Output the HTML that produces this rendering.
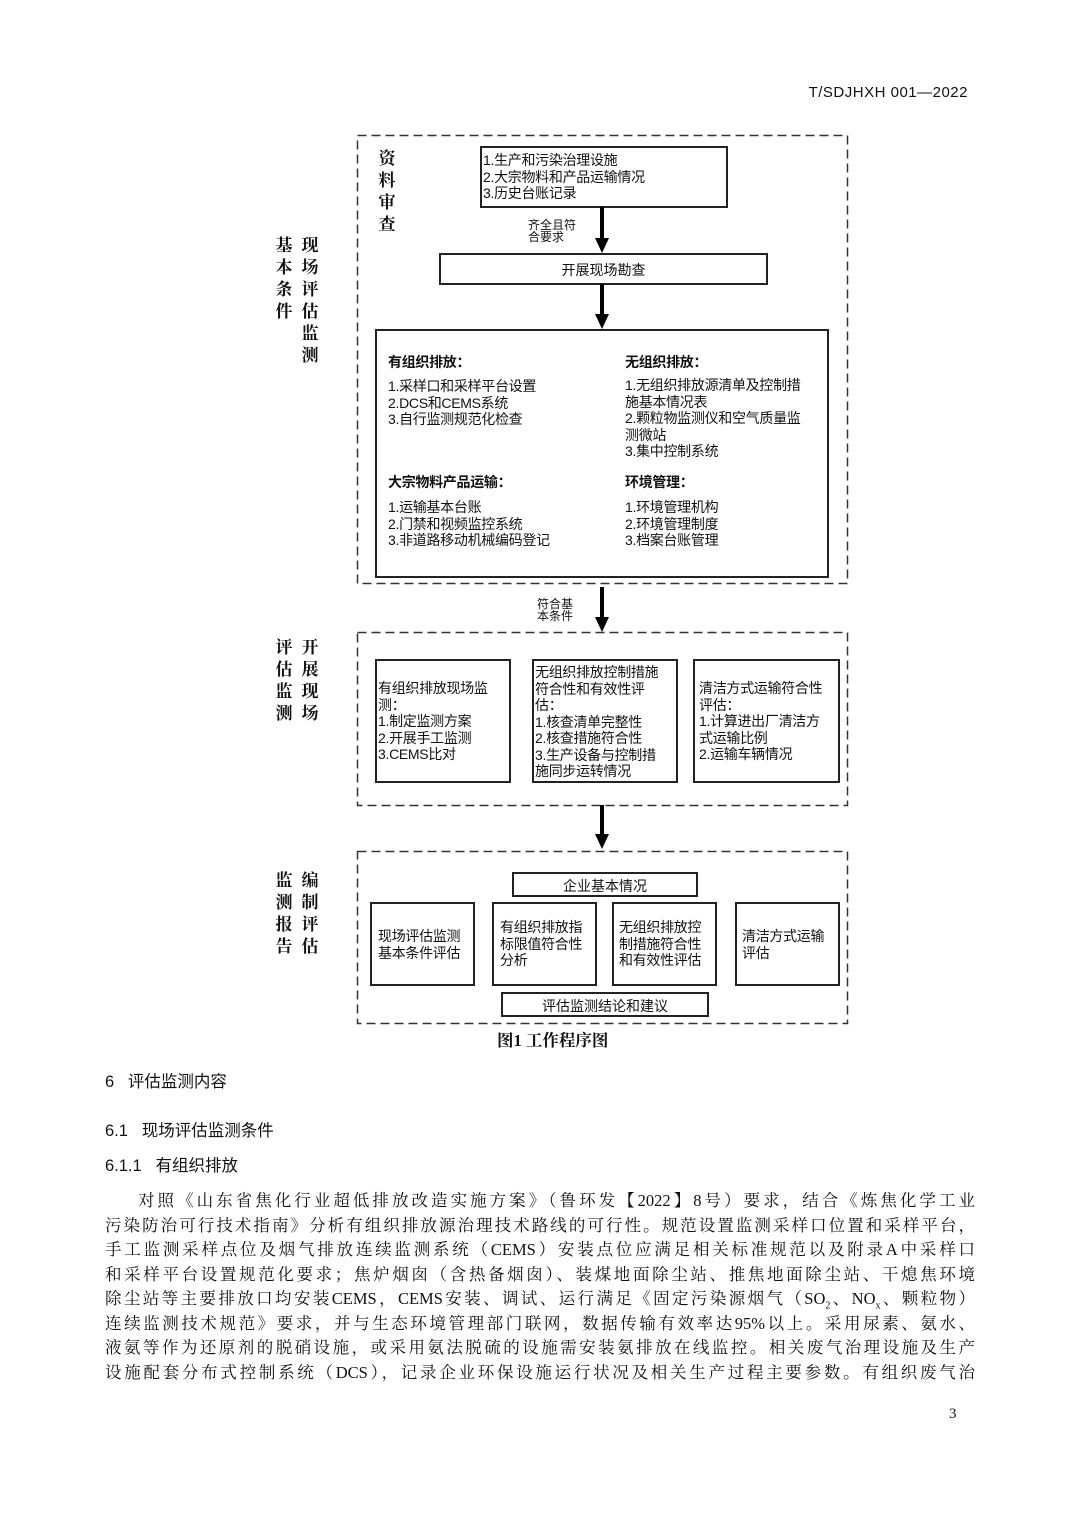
<!DOCTYPE html>
<html><head><meta charset="utf-8"><style>
*{margin:0;padding:0;box-sizing:border-box}
body{width:1080px;height:1527px;background:#fff;position:relative;overflow:hidden;font-family:"Liberation Sans","Noto Sans CJK SC",sans-serif;color:#111}
.a{position:absolute}
.b{position:absolute;border:2px solid #222;background:#fff}
.t{position:absolute;font-size:14px;line-height:16.5px;white-space:nowrap;letter-spacing:-0.3px}
.h{font-weight:bold}
.v{position:absolute;font-weight:bold;font-size:17px;line-height:22px;width:20px;font-family:"Liberation Serif","Noto Serif CJK SC",serif;text-align:center}
.sl{position:absolute;width:4px;background:#000}
.ah{position:absolute;width:0;height:0;border-left:7px solid transparent;border-right:7px solid transparent;border-top:15px solid #000}
.sm{position:absolute;font-size:12px;line-height:12px;white-space:nowrap}
.p{position:absolute;left:105px;width:870px;font-family:"Liberation Serif","Noto Serif CJK SC",serif;font-size:16.5px;line-height:20px;text-align:justify;text-align-last:justify;white-space:nowrap}
.sec{position:absolute;left:105px;font-size:16.5px;line-height:20px}
</style></head><body>
<svg class="a" style="left:0;top:0" width="1080" height="1527">
<g fill="none" stroke="#333" stroke-width="1.5" stroke-dasharray="9,5">
<rect x="357.5" y="135.5" width="490" height="448"/>
<rect x="357.5" y="632.5" width="490" height="173"/>
<rect x="357.5" y="851.5" width="490" height="172"/>
</g></svg>
<div class="a" style="right:112px;top:84px;font-size:15px;letter-spacing:0.5px">T/SDJHXH 001—2022</div>

<div class="v" style="left:274px;top:235px">基<br>本<br>条<br>件</div>
<div class="v" style="left:300px;top:235px">现<br>场<br>评<br>估<br>监<br>测</div>
<div class="v" style="left:274px;top:637px">评<br>估<br>监<br>测</div>
<div class="v" style="left:300px;top:637px">开<br>展<br>现<br>场</div>
<div class="v" style="left:274px;top:870px">监<br>测<br>报<br>告</div>
<div class="v" style="left:300px;top:870px">编<br>制<br>评<br>估</div>

<div class="v" style="left:377px;top:148px">资<br>料<br>审<br>查</div>
<div class="b" style="left:480px;top:146px;width:248px;height:62px"></div>
<div class="t" style="left:483px;top:152px">1.生产和污染治理设施<br>2.大宗物料和产品运输情况<br>3.历史台账记录</div>
<div class="sl" style="left:600px;top:207px;height:33px"></div><div class="ah" style="left:595px;top:238px"></div>
<div class="sm" style="left:528px;top:219px">齐全且符<br>合要求</div>
<div class="b" style="left:439px;top:253px;width:329px;height:32px"></div>
<div class="a" style="left:439px;top:260px;width:329px;text-align:center;font-size:14px">开展现场勘查</div>
<div class="sl" style="left:600px;top:284px;height:31px"></div><div class="ah" style="left:595px;top:314px"></div>
<div class="b" style="left:375px;top:329px;width:454px;height:249px"></div>
<div class="t h" style="left:388px;top:354px">有组织排放：</div>
<div class="t" style="left:388px;top:378px">1.采样口和采样平台设置<br>2.DCS和CEMS系统<br>3.自行监测规范化检查</div>
<div class="t h" style="left:625px;top:354px">无组织排放：</div>
<div class="t" style="left:625px;top:377px">1.无组织排放源清单及控制措<br>施基本情况表<br>2.颗粒物监测仪和空气质量监<br>测微站<br>3.集中控制系统</div>
<div class="t h" style="left:388px;top:474px">大宗物料产品运输：</div>
<div class="t" style="left:388px;top:499px">1.运输基本台账<br>2.门禁和视频监控系统<br>3.非道路移动机械编码登记</div>
<div class="t h" style="left:625px;top:474px">环境管理：</div>
<div class="t" style="left:625px;top:499px">1.环境管理机构<br>2.环境管理制度<br>3.档案台账管理</div>

<div class="sl" style="left:600px;top:587px;height:31px"></div><div class="ah" style="left:595px;top:617px"></div>
<div class="sm" style="left:537px;top:598px">符合基<br>本条件</div>

<div class="b" style="left:375px;top:659px;width:136px;height:124px"></div>
<div class="t" style="left:378px;top:680px">有组织排放现场监<br>测：<br>1.制定监测方案<br>2.开展手工监测<br>3.CEMS比对</div>
<div class="b" style="left:532px;top:659px;width:146px;height:124px"></div>
<div class="t" style="left:535px;top:664px">无组织排放控制措施<br>符合性和有效性评<br>估：<br>1.核查清单完整性<br>2.核查措施符合性<br>3.生产设备与控制措<br>施同步运转情况</div>
<div class="b" style="left:693px;top:659px;width:147px;height:124px"></div>
<div class="t" style="left:699px;top:680px">清洁方式运输符合性<br>评估：<br>1.计算进出厂清洁方<br>式运输比例<br>2.运输车辆情况</div>

<div class="sl" style="left:600px;top:805px;height:30px"></div><div class="ah" style="left:595px;top:834px"></div>

<div class="b" style="left:512px;top:872px;width:186px;height:25px"></div>
<div class="a" style="left:512px;top:876px;width:186px;text-align:center;font-size:14px">企业基本情况</div>
<div class="b" style="left:370px;top:902px;width:105px;height:84px"></div>
<div class="t" style="left:378px;top:928px">现场评估监测<br>基本条件评估</div>
<div class="b" style="left:492px;top:902px;width:105px;height:84px"></div>
<div class="t" style="left:500px;top:919px">有组织排放指<br>标限值符合性<br>分析</div>
<div class="b" style="left:612px;top:902px;width:105px;height:84px"></div>
<div class="t" style="left:619px;top:919px">无组织排放控<br>制措施符合性<br>和有效性评估</div>
<div class="b" style="left:735px;top:902px;width:105px;height:84px"></div>
<div class="t" style="left:742px;top:928px">清洁方式运输<br>评估</div>
<div class="b" style="left:501px;top:992px;width:208px;height:25px"></div>
<div class="a" style="left:501px;top:996px;width:208px;text-align:center;font-size:14px">评估监测结论和建议</div>

<div class="a h" style="left:497px;top:1027px;font-size:16.5px;font-weight:bold;font-family:'Liberation Serif','Noto Serif CJK SC',serif">图1 工作程序图</div>

<div class="sec" style="top:1072px">6&nbsp;&nbsp;&nbsp;评估监测内容</div>
<div class="sec" style="top:1121px">6.1&nbsp;&nbsp;&nbsp;现场评估监测条件</div>
<div class="sec" style="top:1156px">6.1.1&nbsp;&nbsp;&nbsp;有组织排放</div>

<div class="p" style="top:1191px;left:138px;width:837px">对照《山东省焦化行业超低排放改造实施方案》（鲁环发【2022】8号）要求，结合《炼焦化学工业</div>
<div class="p" style="top:1216px">污染防治可行技术指南》分析有组织排放源治理技术路线的可行性。规范设置监测采样口位置和采样平台，</div>
<div class="p" style="top:1240px">手工监测采样点位及烟气排放连续监测系统（CEMS）安装点位应满足相关标准规范以及附录A中采样口</div>
<div class="p" style="top:1265px">和采样平台设置规范化要求；焦炉烟囱（含热备烟囱）、装煤地面除尘站、推焦地面除尘站、干熄焦环境</div>
<div class="p" style="top:1289px">除尘站等主要排放口均安装CEMS，CEMS安装、调试、运行满足《固定污染源烟气（SO<sub style="font-size:10px">2</sub>、NO<sub style="font-size:10px">x</sub>、颗粒物）</div>
<div class="p" style="top:1314px">连续监测技术规范》要求，并与生态环境管理部门联网，数据传输有效率达95%以上。采用尿素、氨水、</div>
<div class="p" style="top:1338px">液氨等作为还原剂的脱硝设施，或采用氨法脱硫的设施需安装氨排放在线监控。相关废气治理设施及生产</div>
<div class="p" style="top:1363px">设施配套分布式控制系统（DCS），记录企业环保设施运行状况及相关生产过程主要参数。有组织废气治</div>
<div class="a" style="left:949px;top:1406px;font-size:15px;font-family:'Liberation Serif',serif">3</div>
</body></html>
